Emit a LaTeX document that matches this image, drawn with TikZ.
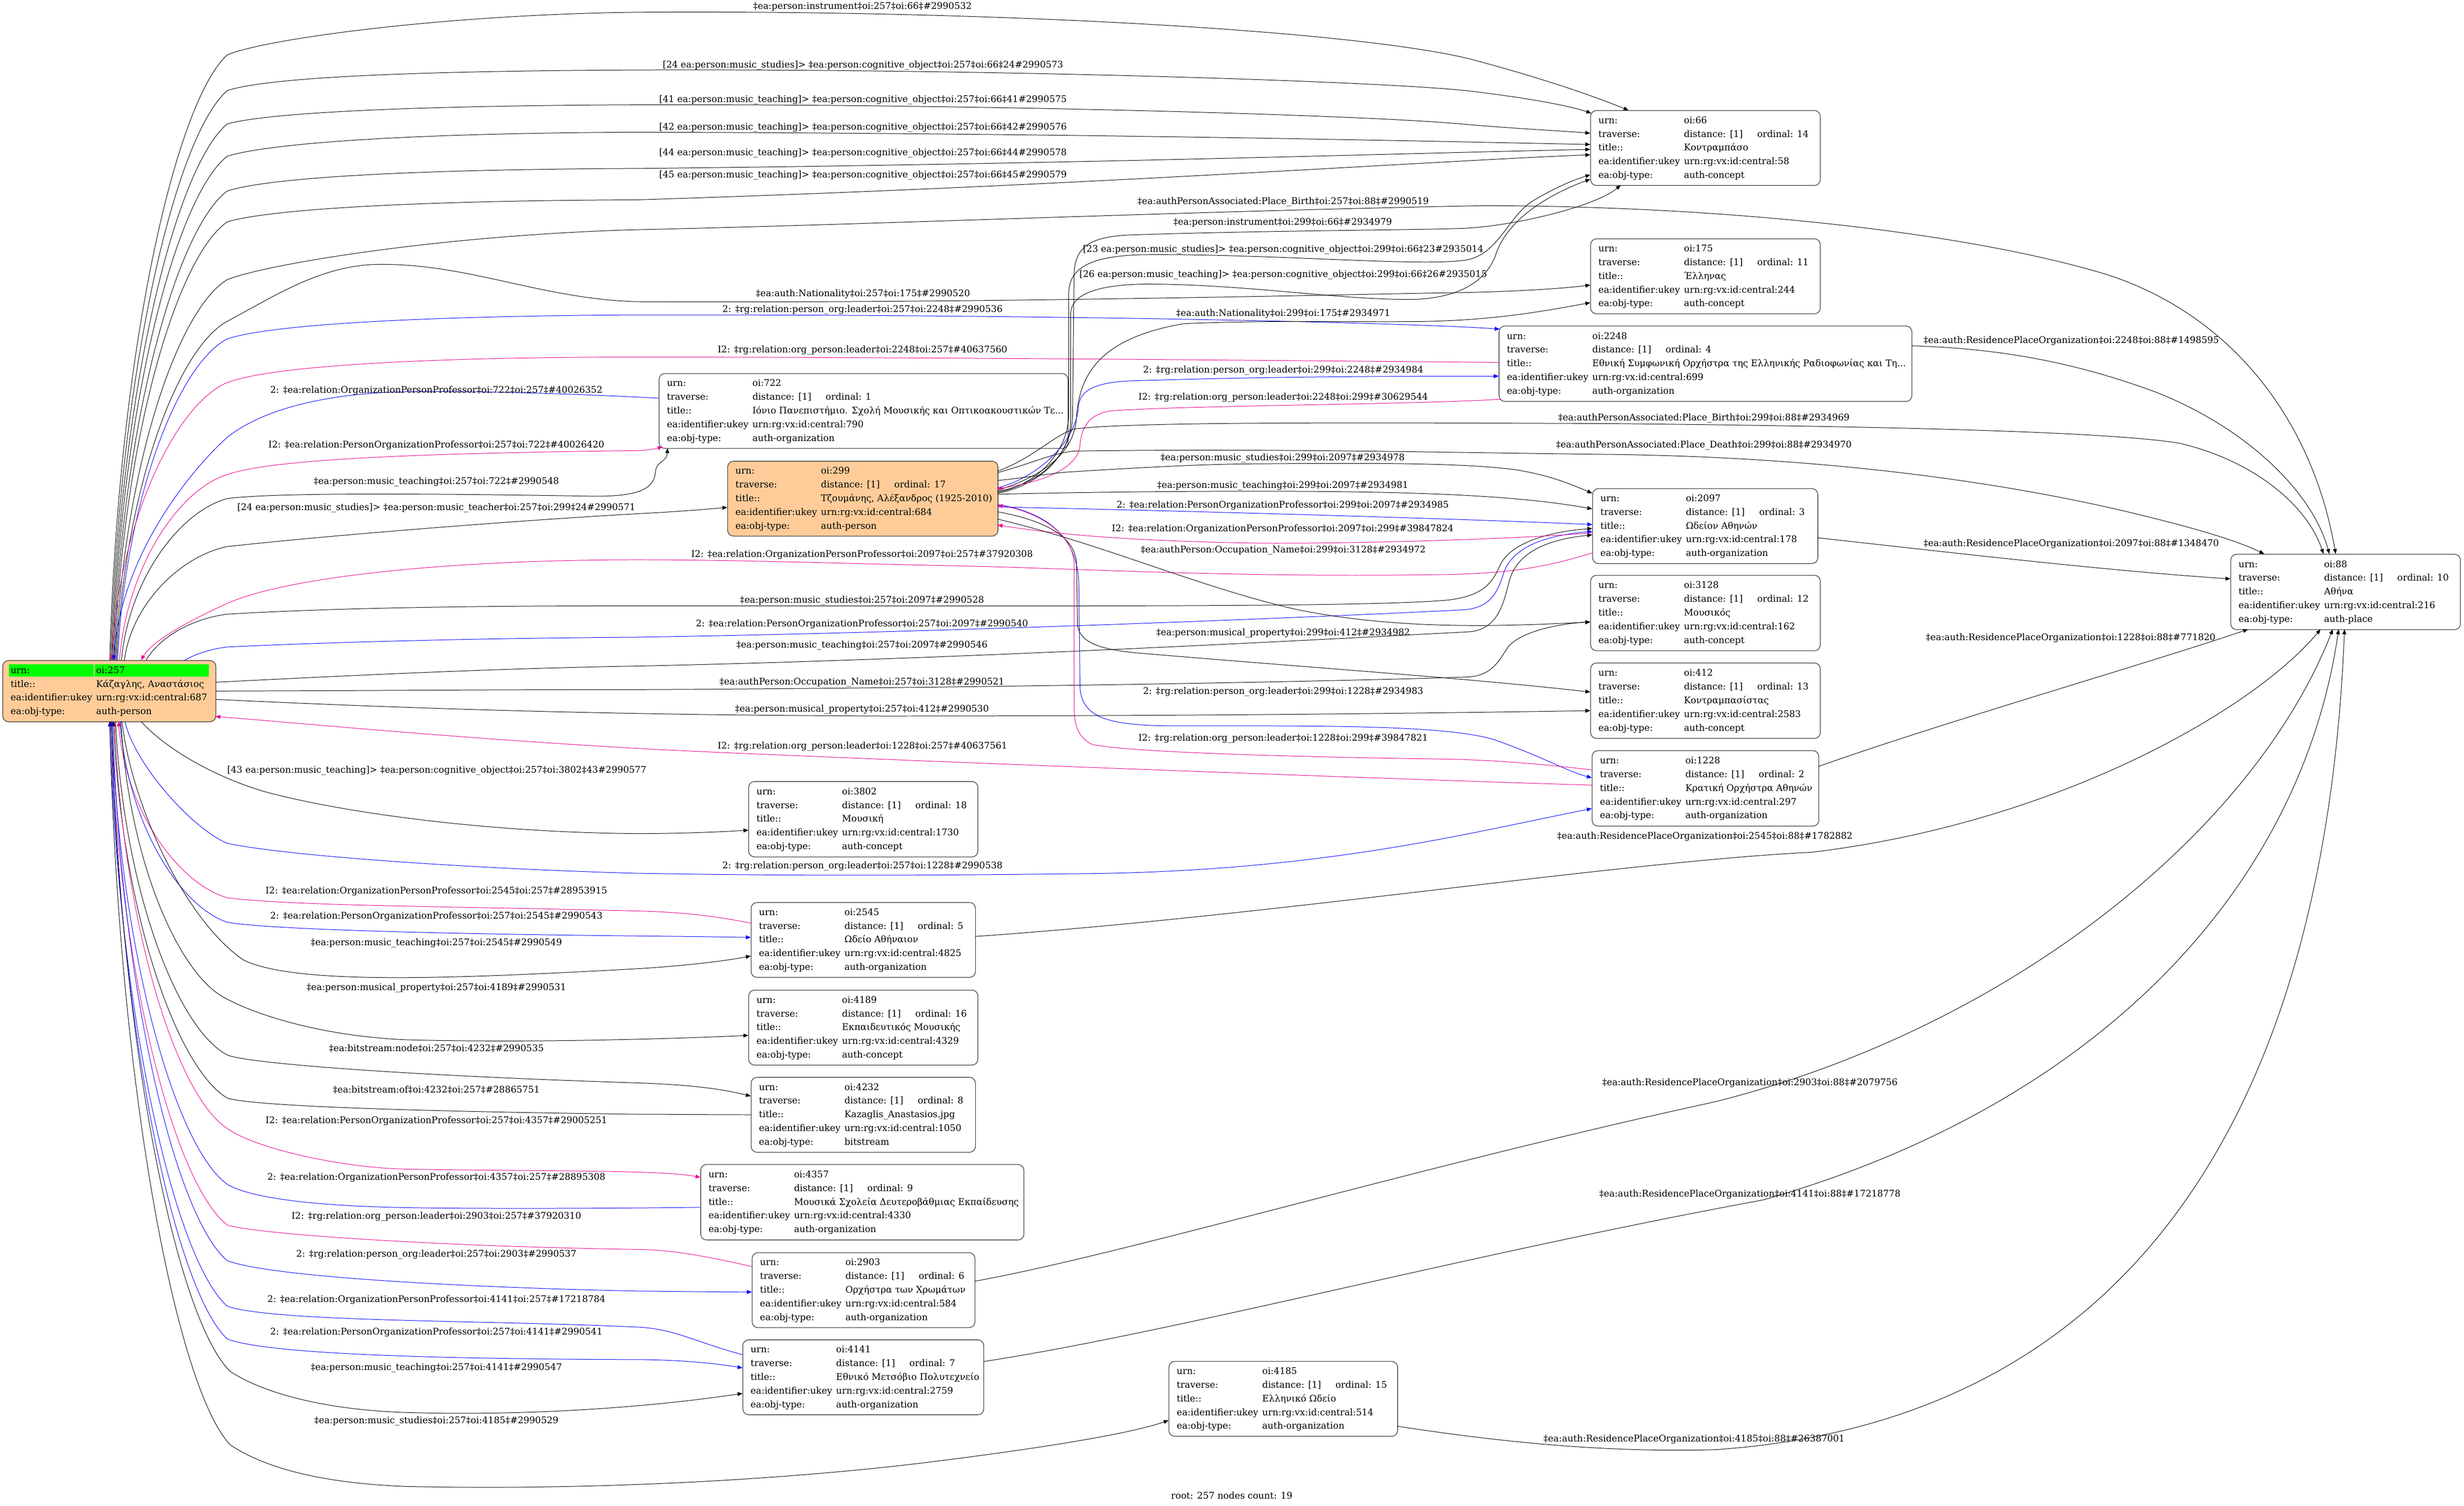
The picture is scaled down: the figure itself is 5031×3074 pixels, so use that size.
\documentclass[tikz,border=0pt]{standalone}
\usepackage{fontspec}
\setmainfont{DejaVu Serif}
\usetikzlibrary{calc,arrows.meta,backgrounds}
\definecolor{peach}{HTML}{FFCC99}
\definecolor{lgreen}{HTML}{00FF00}
\definecolor{bord}{HTML}{404040}
\newcommand\rows[5]{\begin{tabular}{@{}l@{\hspace{6pt}}l@{}}urn: & oi:#1\\ traverse: & distance: [1]\hspace{22pt}ordinal: #2\\ title:: & #3\\ ea:identifier:ukey & urn:rg:vx:id:central:#4\\ ea:obj-type: & #5\end{tabular}}
\newcommand\wbox[2]{\makebox[\dimexpr 0.75pt*#1-24pt\relax][l]{#2}}
\begin{document}
\begin{tikzpicture}[x=0.75pt,y=-0.75pt,
  >={Triangle[length=7.5pt,width=6pt]},
  gnode/.style 2 args={draw=bord, line width=1pt, rounded corners=9pt, inner xsep=12pt, inner ysep=0pt, anchor=north west, minimum width=#1*0.75pt, minimum height=#2*0.75pt, font=\fontsize{14}{21}\selectfont},
  lbl/.style={inner sep=0pt, font=\fontsize{14}{17}\selectfont},
  edk/.style={line width=0.75pt, ->},
  edb/.style={edk, blue},
  edm/.style={edk, magenta}]
\useasboundingbox (0,0) rectangle (5031,3074);
\begin{scope}[on background layer]
\fill[white] (0,0) rectangle (5031,3074);
\end{scope}

% ---------------- nodes ----------------
\node[gnode={469}{153}] (n66) at (3247,225) {\wbox{469}{\rows{66}{14}{Κοντραμπάσο}{58}{auth-concept}}};
\node[gnode={469}{153}] (n175) at (3247,487) {\wbox{469}{\rows{175}{11}{Έλληνας}{244}{auth-concept}}};
\node[gnode={843}{154}] (n2248) at (3060,665) {\wbox{843}{\rows{2248}{4}{Εθνική Συμφωνική Ορχήστρα της Ελληνικής Ραδιοφωνίας και Τη...}{699}{auth-organization}}};
\node[gnode={835}{153}] (n722) at (1345,762) {\wbox{835}{\rows{722}{1}{Ιόνιο Πανεπιστήμιο. Σχολή Μουσικής και Οπτικοακουστικών Τε...}{790}{auth-organization}}};
\node[gnode={552}{153}, fill=peach] (n299) at (1485,941) {\wbox{552}{\rows{299}{17}{Τζουμάνης, Αλέξανδρος (1925-2010)}{684}{auth-person}}};
\node[gnode={460}{153}] (n2097) at (3251,997) {\wbox{460}{\rows{2097}{3}{Ωδείον Αθηνών}{178}{auth-organization}}};
\node[gnode={469}{154}] (n3128) at (3247,1174) {\wbox{469}{\rows{3128}{12}{Μουσικός}{162}{auth-concept}}};
\node[gnode={469}{154}] (n412) at (3247,1353) {\wbox{469}{\rows{412}{13}{Κοντραμπασίστας}{2583}{auth-concept}}};
\node[gnode={463}{154}] (n1228) at (3250,1532) {\wbox{463}{\rows{1228}{2}{Κρατική Ορχήστρα Αθηνών}{297}{auth-organization}}};
\node[gnode={469}{154}] (n88) at (4554,1131) {\wbox{469}{\rows{88}{10}{Αθήνα}{216}{auth-place}}};
\node[gnode={435}{125}] (n257) at (5,1348) {\wbox{435}{\begin{tabular}{@{}l@{\hspace{6pt}}l@{}}urn: & oi:257\\ title:: & Κάζαγλης, Αναστάσιος\\ ea:identifier:ukey & urn:rg:vx:id:central:687\\ ea:obj-type: & auth-person\end{tabular}}};
\node[gnode={468}{154}] (n3802) at (1528,1595) {\wbox{468}{\rows{3802}{18}{Μουσική}{1730}{auth-concept}}};
\node[gnode={458}{153}] (n2545) at (1533,1842) {\wbox{458}{\rows{2545}{5}{Ωδείο Αθήναιον}{4825}{auth-organization}}};
\node[gnode={468}{153}] (n4189) at (1528,2021) {\wbox{468}{\rows{4189}{16}{Εκπαιδευτικός Μουσικής}{4329}{auth-concept}}};
\node[gnode={458}{153}] (n4232) at (1533,2199) {\wbox{458}{\rows{4232}{8}{Kazaglis\_Anastasios.jpg}{1050}{bitstream}}};
\node[gnode={660}{154}] (n4357) at (1430,2377) {\wbox{660}{\rows{4357}{9}{Μουσικά Σχολεία Δευτεροβάθμιας Εκπαίδευσης}{4330}{auth-organization}}};
\node[gnode={455}{153}] (n2903) at (1535,2557) {\wbox{455}{\rows{2903}{6}{Ορχήστρα των Χρωμάτων}{584}{auth-organization}}};
\node[gnode={492}{153}] (n4141) at (1516,2735) {\wbox{492}{\rows{4141}{7}{Εθνικό Μετσόβιο Πολυτεχνείο}{2759}{auth-organization}}};
\node[gnode={467}{153}] (n4185) at (2386,2779) {\wbox{467}{\rows{4185}{15}{Ελληνικό Ωδείο}{514}{auth-organization}}};

\begin{scope}[on background layer]
\fill[peach, rounded corners=9pt] (n257.north west) rectangle (n257.south east);
\fill[lgreen] ($(n257.north west)+(13,8)$) rectangle ($(n257.north west)+(186,33)$);
\fill[lgreen] ($(n257.north west)+(188,8)$) rectangle ($(n257.north west)+(422,33)$);
\end{scope}

% ---------------- edges from 257 (upper) ----------------
\draw[edk] ($(n257.north west)+(219,0)$) .. controls (241,730) and (356,211) .. (464,112) .. controls (540,80) and (900,30) .. (1300,25) .. controls (2000,20) and (2750,60) .. (3000,120) .. controls (3150,160) and (3245,193) .. ($(n66.north west)+(78,0)$);
\draw[edk] ($(n257.north west)+(221,0)$) .. controls (243,766) and (357,278) .. (464,185) .. controls (540,160) and (800,145) .. (1300,143) .. controls (2000,140) and (2800,165) .. (2993,185) .. controls (3120,200) and (3200,215) .. ($(n66.north west)+(2,6)$);
\draw[edk] ($(n257.north west)+(223,0)$) .. controls (245,800) and (358,341) .. (464,253) .. controls (540,232) and (800,216) .. (1300,214) .. controls (2000,212) and (2800,235) .. (2993,254) .. controls (3100,263) and (3200,268) .. ($(n66.north west)+(0,47)$);
\draw[edk] ($(n257.north west)+(225,0)$) .. controls (246,833) and (359,401) .. (464,319) .. controls (540,295) and (800,272) .. (1300,270) .. controls (2200,272) and (2900,288) .. ($(n66.north west)+(0,70)$);
\draw[edk] ($(n257.north west)+(227,0)$) .. controls (248,869) and (360,467) .. (464,390) .. controls (540,365) and (800,346) .. (1300,344) .. controls (2200,335) and (2900,312) .. ($(n66.north west)+(0,80)$);
\draw[edk] ($(n257.north west)+(229,0)$) .. controls (250,900) and (360,525) .. (464,453) .. controls (540,430) and (800,410) .. (1300,408) .. controls (2200,380) and (2900,330) .. ($(n66.north west)+(0,91)$);
\draw[edk] ($(n257.north west)+(231,0)$) .. controls (252,960) and (361,633) .. (464,571) .. controls (540,540) and (900,480) .. (1300,469) .. controls (1800,458) and (2400,432) .. (3025,420) .. controls (3500,420) and (4000,470) .. (4300,560) .. controls (4550,640) and (4720,850) .. ($(n88.north west)+(215,0)$);
\draw[edk] ($(n257.north west)+(233,0)$) .. controls (254,1002) and (362,711) .. (464,656) .. controls (560,605) and (650,545) .. (763,540) .. controls (950,535) and (1100,610) .. (1300,616) .. controls (2000,620) and (2800,600) .. (2950,598) .. controls (3100,596) and (3200,588) .. ($(n175.north west)+(0,95)$);
\draw[edb] ($(n257.north west)+(235,0)$) .. controls (256,1020) and (363,744) .. (464,692) .. controls (560,660) and (900,645) .. (1300,643) .. controls (2200,642) and (2900,660) .. ($(n2248.north west)+(2,7)$);
\draw[edm] ($(n2248.north west)+(0,75)$) .. controls (2500,735) and (1800,729) .. (1300,729) .. controls (900,729) and (560,745) .. (464,781) .. controls (358,826) and (244,1064) .. ($(n257.north west)+(223,0)$);
\draw[edb] ($(n722.north west)+(0,51)$) .. controls (1100,800) and (900,798) .. (816,800) .. controls (650,805) and (530,840) .. (464,893) .. controls (405,945) and (248,1121) .. ($(n257.north west)+(227,0)$);
\draw[edm] ($(n257.north west)+(239,0)$) .. controls (259,1158) and (365,999) .. (464,969) .. controls (560,935) and (900,925) .. (1300,920) .. controls (1325,919) and (1340,916) .. ($(n722.north west)+(8,150)$);
\draw[edk] ($(n257.north west)+(243,0)$) .. controls (263,1183) and (367,1044) .. (464,1018) .. controls (560,1005) and (900,1008) .. (1200,1013) .. controls (1300,1015) and (1335,1000) .. (1338,965) .. controls (1340,940) and (1361,945) .. ($(n722.north west)+(18,153)$);
\draw[edk] ($(n257.north west)+(249,0)$) .. controls (269,1232) and (370,1135) .. (464,1116) .. controls (700,1090) and (1100,1060) .. (1300,1049) .. controls (1380,1045) and (1440,1040) .. ($(n299.north west)+(0,95)$);
\draw[edm] ($(n2097.north west)+(0,132)$) .. controls (3150,1160) and (3080,1170) .. (2958,1173) .. controls (2500,1180) and (2200,1160) .. (1938,1155) .. controls (1700,1150) and (1500,1143) .. (1300,1143) .. controls (900,1143) and (580,1180) .. (464,1232) .. controls (380,1270) and (310,1310) .. ($(n257.north west)+(283,0)$);
\draw[edk] ($(n257.north west)+(293,0)$) .. controls (330,1295) and (400,1262) .. (464,1254) .. controls (700,1240) and (1000,1237) .. (1300,1237) .. controls (2200,1237) and (2800,1240) .. (2958,1225) .. controls (3040,1215) and (3050,1180) .. (3065,1150) .. controls (3090,1105) and (3170,1085) .. ($(n2097.north west)+(0,82)$);
\draw[edb] ($(n257.north west)+(372,0)$) .. controls (400,1335) and (430,1325) .. (464,1321) .. controls (700,1310) and (1000,1303) .. (1300,1301) .. controls (2000,1290) and (2800,1255) .. (2990,1245) .. controls (3050,1240) and (3060,1200) .. (3072,1165) .. controls (3095,1110) and (3170,1092) .. ($(n2097.north west)+(0,88)$);
\draw[edk] ($(n257.north west)+(435,45)$) .. controls (700,1380) and (1000,1365) .. (1300,1360) .. controls (2000,1345) and (2800,1300) .. (3000,1290) .. controls (3060,1285) and (3070,1230) .. (3082,1185) .. controls (3100,1120) and (3175,1100) .. ($(n2097.north west)+(0,95)$);
\draw[edk] ($(n257.north west)+(435,63)$) .. controls (800,1410) and (1000,1408) .. (1300,1408) .. controls (2000,1405) and (2800,1390) .. (3000,1382) .. controls (3050,1378) and (3062,1345) .. (3080,1320) .. controls (3110,1285) and (3200,1272) .. ($(n3128.north west)+(0,96)$);
\draw[edk] ($(n257.north west)+(435,80)$) .. controls (900,1450) and (1300,1460) .. (1800,1462) .. controls (2500,1462) and (3000,1455) .. ($(n412.north west)+(0,98)$);
\draw[edm] ($(n1228.north west)+(0,71)$) .. controls (2800,1590) and (1500,1540) .. (1300,1528) .. controls (900,1505) and (600,1475) .. ($(n257.north west)+(435,115)$);

% ---------------- edges from 257 (lower) ----------------
\draw[edk] ($(n257.north west)+(283,125)$) .. controls (330,1520) and (420,1580) .. (539,1616) .. controls (700,1660) and (1000,1700) .. (1300,1702) .. controls (1400,1702) and (1480,1698) .. ($(n3802.north west)+(0,100)$);
\draw[edb] ($(n257.north west)+(250,125)$) .. controls (275,1560) and (390,1690) .. (464,1722) .. controls (600,1750) and (1000,1775) .. (1300,1783) .. controls (1700,1790) and (2000,1786) .. (2200,1784) .. controls (2700,1780) and (3000,1700) .. ($(n1228.north west)+(0,119)$);
\draw[edm] ($(n2545.north west)+(0,43)$) .. controls (1450,1868) and (1380,1862) .. (1300,1860) .. controls (900,1850) and (600,1850) .. (464,1833) .. controls (363,1804) and (256,1653) .. ($(n257.north west)+(237,125)$);
\draw[edb] ($(n257.north west)+(240,125)$) .. controls (260,1678) and (365,1850) .. (464,1883) .. controls (560,1900) and (1000,1908) .. (1300,1911) .. controls (1400,1912) and (1480,1913) .. ($(n2545.north west)+(0,72)$);
\draw[edk] ($(n257.north west)+(244,125)$) .. controls (270,1650) and (380,1880) .. (497,1960) .. controls (600,2010) and (900,2000) .. (1300,1978) .. controls (1400,1972) and (1480,1962) .. ($(n2545.north west)+(0,110)$);
\draw[edk] ($(n257.north west)+(242,125)$) .. controls (262,1756) and (366,1995) .. (464,2040) .. controls (520,2070) and (650,2115) .. (829,2123) .. controls (1100,2130) and (1400,2120) .. ($(n4189.north west)+(0,93)$);
\draw[edk] ($(n257.north west)+(231,125)$) .. controls (252,1813) and (361,2100) .. (464,2154) .. controls (500,2170) and (800,2195) .. (1300,2211) .. controls (1420,2215) and (1480,2225) .. ($(n4232.north west)+(0,39)$);
\draw[edk] ($(n4232.north west)+(0,77)$) .. controls (1450,2276) and (1350,2275) .. (1300,2275) .. controls (900,2270) and (520,2260) .. (464,2242) .. controls (360,2180) and (248,1858) .. ($(n257.north west)+(227,125)$);
\draw[edm] ($(n257.north west)+(229,125)$) .. controls (250,1888) and (360,2237) .. (464,2304) .. controls (520,2345) and (700,2385) .. (829,2387) .. controls (1100,2392) and (1350,2388) .. ($(n4357.north west)+(0,27)$);
\draw[edb] ($(n4357.north west)+(0,88)$) .. controls (1200,2468) and (900,2468) .. (800,2465) .. controls (600,2460) and (500,2440) .. (464,2418) .. controls (358,2342) and (245,1946) .. ($(n257.north west)+(223,125)$);
\draw[edm] ($(n2903.north west)+(0,29)$) .. controls (1400,2555) and (1350,2552) .. (1300,2551) .. controls (900,2545) and (520,2520) .. (464,2501) .. controls (357,2419) and (243,1987) .. ($(n257.north west)+(221,125)$);
\draw[edb] ($(n257.north west)+(225,125)$) .. controls (246,2024) and (359,2486) .. (464,2574) .. controls (560,2610) and (1000,2630) .. (1300,2636) .. controls (1400,2637) and (1480,2638) .. ($(n2903.north west)+(0,81)$);
\draw[edb] ($(n4141.north west)+(0,31)$) .. controls (1420,2740) and (1380,2715) .. (1309,2710) .. controls (1000,2695) and (560,2700) .. (464,2667) .. controls (356,2571) and (241,2070) .. ($(n257.north west)+(219,125)$);
\draw[edb] ($(n257.north west)+(221,125)$) .. controls (243,2104) and (357,2633) .. (464,2734) .. controls (560,2770) and (1000,2775) .. (1309,2776) .. controls (1400,2777) and (1470,2785) .. ($(n4141.north west)+(0,58)$);
\draw[edk] ($(n257.north west)+(223,125)$) .. controls (245,2137) and (361,2694) .. (470,2800) .. controls (530,2840) and (650,2878) .. (829,2884) .. controls (1100,2892) and (1350,2870) .. ($(n4141.north west)+(0,110)$);
\draw[edk] ($(n257.north west)+(219,125)$) .. controls (241,2212) and (359,2832) .. (470,2950) .. controls (560,3010) and (700,3030) .. (829,3035) .. controls (1300,3045) and (1700,3010) .. (1900,2985) .. controls (2100,2960) and (2300,2930) .. ($(n4185.north west)+(0,121)$);

% ---------------- edges from 299 ----------------
\draw[edk] ($(n299.north west)+(552,62)$) .. controls (2120,990) and (2188,930) .. (2190,850) -- (2193,560) .. controls (2195,500) and (2230,485) .. (2300,480) .. controls (2600,470) and (2900,470) .. (2993,466) .. controls (3100,460) and (3260,420) .. ($(n66.north west)+(62,153)$);
\draw[edk] ($(n299.north west)+(552,64)$) .. controls (2120,990) and (2180,920) .. (2182,850) -- (2182,600) .. controls (2182,545) and (2230,522) .. (2337,520) .. controls (2600,518) and (2900,545) .. (2993,531) .. controls (3060,520) and (3080,440) .. (3130,410) .. controls (3180,380) and (3220,365) .. ($(n66.north west)+(0,132)$);
\draw[edk] ($(n299.north west)+(552,66)$) .. controls (2120,992) and (2186,930) .. (2186,860) -- (2186,640) .. controls (2188,600) and (2240,582) .. (2337,580) .. controls (2550,580) and (2750,615) .. (2895,611) .. controls (3000,605) and (3040,560) .. (3054,520) .. controls (3080,440) and (3180,390) .. ($(n66.north west)+(0,141)$);
\draw[edk] ($(n299.north west)+(552,60)$) .. controls (2120,975) and (2195,930) .. (2198,850) .. controls (2205,760) and (2250,690) .. (2416,661) .. controls (2600,652) and (2850,660) .. (2950,655) .. controls (3080,650) and (3180,630) .. ($(n175.north west)+(0,131)$);
\draw[edb] ($(n299.north west)+(552,55)$) .. controls (2120,975) and (2198,900) .. (2202,830) .. controls (2205,795) and (2240,782) .. (2300,778) .. controls (2600,768) and (2900,768) .. ($(n2248.north west)+(0,103)$);
\draw[edm] ($(n2248.north west)+(5,150)$) .. controls (2900,826) and (2400,828) .. (2269,839) .. controls (2225,845) and (2208,870) .. (2205,910) .. controls (2200,960) and (2120,985) .. ($(n299.north west)+(552,57)$);
\draw[edk] ($(n299.north west)+(552,21)$) .. controls (2110,935) and (2150,890) .. (2193,876) .. controls (2300,862) and (2700,862) .. (3300,865) .. controls (3800,870) and (4300,880) .. (4450,905) .. controls (4600,940) and (4710,1030) .. ($(n88.north west)+(190,0)$);
\draw[edk] ($(n299.north west)+(552,24)$) .. controls (2110,945) and (2150,925) .. (2193,921) .. controls (2600,915) and (3000,925) .. (3300,928) .. controls (3800,935) and (4150,1000) .. (4331,1042) .. controls (4450,1070) and (4560,1100) .. ($(n88.north west)+(69,0)$);
\draw[edk] ($(n299.north west)+(552,40)$) .. controls (2100,975) and (2150,965) .. (2193,963) .. controls (2400,950) and (2500,947) .. (2575,947) .. controls (2800,945) and (3000,945) .. (3100,960) .. controls (3170,972) and (3210,990) .. ($(n2097.north west)+(0,10)$);
\draw[edk] ($(n299.north west)+(552,68)$) .. controls (2300,1003) and (2500,1003) .. (2575,1003) .. controls (2900,1003) and (3100,1012) .. ($(n2097.north west)+(0,42)$);
\draw[edb] ($(n299.north west)+(552,94)$) .. controls (2500,1045) and (3000,1060) .. ($(n2097.north west)+(0,74)$);
\draw[edm] ($(n2097.north west)+(0,91)$) .. controls (3100,1100) and (2800,1110) .. (2575,1109) .. controls (2300,1105) and (2150,1090) .. ($(n299.north west)+(552,131)$);
\draw[edk] ($(n299.north west)+(552,119)$) .. controls (2250,1110) and (2450,1200) .. (2650,1245) .. controls (2850,1285) and (3050,1280) .. ($(n3128.north west)+(0,96)$);
\draw[edk] ($(n299.north west)+(552,104)$) .. controls (2120,1060) and (2195,1090) .. (2198,1150) -- (2200,1270) .. controls (2200,1310) and (2240,1325) .. (2320,1333) .. controls (2700,1365) and (3000,1385) .. ($(n412.north west)+(0,60)$);
\draw[edb] ($(n299.north west)+(552,89)$) .. controls (2130,1045) and (2203,1090) .. (2203,1200) -- (2205,1400) .. controls (2207,1465) and (2260,1482) .. (2400,1482) .. controls (2700,1482) and (2950,1480) .. (3050,1510) .. controls (3150,1545) and (3200,1575) .. ($(n1228.north west)+(0,56)$);
\draw[edm] ($(n1228.north west)+(0,40)$) .. controls (3150,1560) and (3050,1552) .. (2958,1550) .. controls (2600,1545) and (2300,1535) .. (2230,1520) .. controls (2200,1505) and (2193,1480) .. (2193,1440) -- (2193,1150) .. controls (2190,1080) and (2100,1040) .. ($(n299.north west)+(552,91)$);

% ---------------- edges to 88 ----------------
\draw[edk] ($(n2248.north west)+(843,41)$) .. controls (4100,712) and (4250,745) .. (4400,800) .. controls (4580,870) and (4720,1000) .. ($(n88.north west)+(202,0)$);
\draw[edk] ($(n2097.north west)+(460,101)$) .. controls (4000,1130) and (4300,1165) .. ($(n88.north west)+(0,51)$);
\draw[edk] ($(n1228.north west)+(463,33)$) .. controls (3950,1480) and (4400,1350) .. ($(n88.north west)+(36,154)$);
\draw[edk] ($(n2545.north west)+(458,70)$) .. controls (2600,1870) and (3300,1760) .. (3700,1740) .. controls (4200,1680) and (4600,1450) .. ($(n88.north west)+(184,154)$);
\draw[edk] ($(n2903.north west)+(455,59)$) .. controls (2300,2560) and (2900,2380) .. (3500,2250) .. controls (4100,2100) and (4600,1700) .. ($(n88.north west)+(209,154)$);
\draw[edk] ($(n4141.north west)+(492,45)$) .. controls (2400,2720) and (3000,2560) .. (3600,2450) .. controls (4300,2250) and (4700,1800) .. ($(n88.north west)+(221,154)$);
\draw[edk] ($(n4185.north west)+(467,133)$) .. controls (3100,2950) and (3300,2965) .. (3500,2960) .. controls (4400,2900) and (4750,2200) .. ($(n88.north west)+(233,154)$);

% ---------------- labels ----------------
\node[lbl] (lE1) at (1761,14) {‡ea:person:instrument‡oi:257‡oi:66‡\#2990532};
\node[lbl] (lE2) at (1762,133) {[24 ea:person:music\_studies]> ‡ea:person:cognitive\_object‡oi:257‡oi:66‡24\#2990573};
\node[lbl] (lE3) at (1762,204) {[41 ea:person:music\_teaching]> ‡ea:person:cognitive\_object‡oi:257‡oi:66‡41\#2990575};
\node[lbl] (lE4) at (1762,260) {[42 ea:person:music\_teaching]> ‡ea:person:cognitive\_object‡oi:257‡oi:66‡42\#2990576};
\node[lbl] (lE5) at (1762,313) {[44 ea:person:music\_teaching]> ‡ea:person:cognitive\_object‡oi:257‡oi:66‡44\#2990578};
\node[lbl] (lE6) at (1762,358) {[45 ea:person:music\_teaching]> ‡ea:person:cognitive\_object‡oi:257‡oi:66‡45\#2990579};
\node[lbl] (lE7) at (2620,412) {‡ea:authPersonAssociated:Place\_Birth‡oi:257‡oi:88‡\#2990519};
\node[lbl] (lE8) at (1762,600) {‡ea:auth:Nationality‡oi:257‡oi:175‡\#2990520};
\node[lbl] (lE9) at (1761,633) {2: ‡rg:relation:person\_org:leader‡oi:257‡oi:2248‡\#2990536};
\node[lbl] (lE10) at (1761,715) {I2: ‡rg:relation:org\_person:leader‡oi:2248‡oi:257‡\#40637560};
\node[lbl] (lE11) at (891,797) {2: ‡ea:relation:OrganizationPersonProfessor‡oi:722‡oi:257‡\#40026352};
\node[lbl] (lE12) at (891,909) {I2: ‡ea:relation:PersonOrganizationProfessor‡oi:257‡oi:722‡\#40026420};
\node[lbl] (lE13) at (891,984) {‡ea:person:music\_teaching‡oi:257‡oi:722‡\#2990548};
\node[lbl] (lE14) at (891,1037) {[24 ea:person:music\_studies]> ‡ea:person:music\_teacher‡oi:257‡oi:299‡24\#2990571};
\node[lbl] (lE15) at (1760,1132) {I2: ‡ea:relation:OrganizationPersonProfessor‡oi:2097‡oi:257‡\#37920308};
\node[lbl] (lE16) at (1760,1226) {‡ea:person:music\_studies‡oi:257‡oi:2097‡\#2990528};
\node[lbl] (lE17) at (1760,1274) {2: ‡ea:relation:PersonOrganizationProfessor‡oi:257‡oi:2097‡\#2990540};
\node[lbl] (lE18) at (1760,1318) {‡ea:person:music\_teaching‡oi:257‡oi:2097‡\#2990546};
\node[lbl] (lE19) at (1760,1393) {‡ea:authPerson:Occupation\_Name‡oi:257‡oi:3128‡\#2990521};
\node[lbl] (lE20) at (1760,1449) {‡ea:person:musical\_property‡oi:257‡oi:412‡\#2990530};
\node[lbl] (lE21) at (1761,1524) {I2: ‡rg:relation:org\_person:leader‡oi:1228‡oi:257‡\#40637561};
\node[lbl] (lE22) at (892,1573) {[43 ea:person:music\_teaching]> ‡ea:person:cognitive\_object‡oi:257‡oi:3802‡43\#2990577};
\node[lbl] (lE23) at (1761,1769) {2: ‡rg:relation:person\_org:leader‡oi:257‡oi:1228‡\#2990538};
\node[lbl] (lE24) at (891,1820) {I2: ‡ea:relation:OrganizationPersonProfessor‡oi:2545‡oi:257‡\#28953915};
\node[lbl] (lE25) at (891,1871) {2: ‡ea:relation:PersonOrganizationProfessor‡oi:257‡oi:2545‡\#2990543};
\node[lbl] (lE26) at (891,1925) {‡ea:person:music\_teaching‡oi:257‡oi:2545‡\#2990549};
\node[lbl] (lE27) at (891,2017) {‡ea:person:musical\_property‡oi:257‡oi:4189‡\#2990531};
\node[lbl] (lE28) at (891,2140) {‡ea:bitstream:node‡oi:257‡oi:4232‡\#2990535};
\node[lbl] (lE29) at (891,2225) {‡ea:bitstream:of‡oi:4232‡oi:257‡\#28865751};
\node[lbl] (lE30) at (891,2289) {I2: ‡ea:relation:PersonOrganizationProfessor‡oi:257‡oi:4357‡\#29005251};
\node[lbl] (lE31) at (891,2404) {2: ‡ea:relation:OrganizationPersonProfessor‡oi:4357‡oi:257‡\#28895308};
\node[lbl] (lE32) at (891,2484) {I2: ‡rg:relation:org\_person:leader‡oi:2903‡oi:257‡\#37920310};
\node[lbl] (lE33) at (891,2561) {2: ‡rg:relation:person\_org:leader‡oi:257‡oi:2903‡\#2990537};
\node[lbl] (lE34) at (891,2654) {2: ‡ea:relation:OrganizationPersonProfessor‡oi:4141‡oi:257‡\#17218784};
\node[lbl] (lE35) at (891,2720) {2: ‡ea:relation:PersonOrganizationProfessor‡oi:257‡oi:4141‡\#2990541};
\node[lbl] (lE36) at (891,2793) {‡ea:person:music\_teaching‡oi:257‡oi:4141‡\#2990547};
\node[lbl] (lE37) at (891,2901) {‡ea:person:music\_studies‡oi:257‡oi:4185‡\#2990529};
\node[lbl] (lF1) at (2619,454) {‡ea:person:instrument‡oi:299‡oi:66‡\#2934979};
\node[lbl] (lF2) at (2620,510) {[23 ea:person:music\_studies]> ‡ea:person:cognitive\_object‡oi:299‡oi:66‡23\#2935014};
\node[lbl] (lF3) at (2620,561) {[26 ea:person:music\_teaching]> ‡ea:person:cognitive\_object‡oi:299‡oi:66‡26\#2935015};
\node[lbl] (lF4) at (2620,640) {‡ea:auth:Nationality‡oi:299‡oi:175‡\#2934971};
\node[lbl] (lF5) at (2620,756) {2: ‡rg:relation:person\_org:leader‡oi:299‡oi:2248‡\#2934984};
\node[lbl] (lF6) at (2620,812) {I2: ‡rg:relation:org\_person:leader‡oi:2248‡oi:299‡\#30629544};
\node[lbl] (lF7) at (3479,854) {‡ea:authPersonAssociated:Place\_Birth‡oi:299‡oi:88‡\#2934969};
\node[lbl] (lF8) at (3479,909) {‡ea:authPersonAssociated:Place\_Death‡oi:299‡oi:88‡\#2934970};
\node[lbl] (lF9) at (2619,935) {‡ea:person:music\_studies‡oi:299‡oi:2097‡\#2934978};
\node[lbl] (lF10) at (2619,992) {‡ea:person:music\_teaching‡oi:299‡oi:2097‡\#2934981};
\node[lbl] (lF11) at (2619,1032) {2: ‡ea:relation:PersonOrganizationProfessor‡oi:299‡oi:2097‡\#2934985};
\node[lbl] (lF12) at (2619,1080) {I2: ‡ea:relation:OrganizationPersonProfessor‡oi:2097‡oi:299‡\#39847824};
\node[lbl] (lF13) at (2620,1124) {‡ea:authPerson:Occupation\_Name‡oi:299‡oi:3128‡\#2934972};
\node[lbl] (lF14) at (2620,1293) {‡ea:person:musical\_property‡oi:299‡oi:412‡\#2934982};
\node[lbl] (lF15) at (2620,1412) {2: ‡rg:relation:person\_org:leader‡oi:299‡oi:1228‡\#2934983};
\node[lbl] (lF16) at (2620,1508) {I2: ‡rg:relation:org\_person:leader‡oi:1228‡oi:299‡\#39847821};
\node[lbl] (lG1) at (4229,696) {‡ea:auth:ResidencePlaceOrganization‡oi:2248‡oi:88‡\#1498595};
\node[lbl] (lG2) at (4229,1110) {‡ea:auth:ResidencePlaceOrganization‡oi:2097‡oi:88‡\#1348470};
\node[lbl] (lG3) at (4228,1303) {‡ea:auth:ResidencePlaceOrganization‡oi:1228‡oi:88‡\#771820};
\node[lbl] (lG4) at (3481,1708) {‡ea:auth:ResidencePlaceOrganization‡oi:2545‡oi:88‡\#1782882};
\node[lbl] (lG5) at (3573,2211) {‡ea:auth:ResidencePlaceOrganization‡oi:2903‡oi:88‡\#2079756};
\node[lbl] (lG6) at (3573,2438) {‡ea:auth:ResidencePlaceOrganization‡oi:4141‡oi:88‡\#17218778};
\node[lbl] (lG7) at (3459,2939) {‡ea:auth:ResidencePlaceOrganization‡oi:4185‡oi:88‡\#26387001};
\node[lbl] (foot) at (2515,3053) {root: 257 nodes count: 19};
\end{tikzpicture}
\end{document}
